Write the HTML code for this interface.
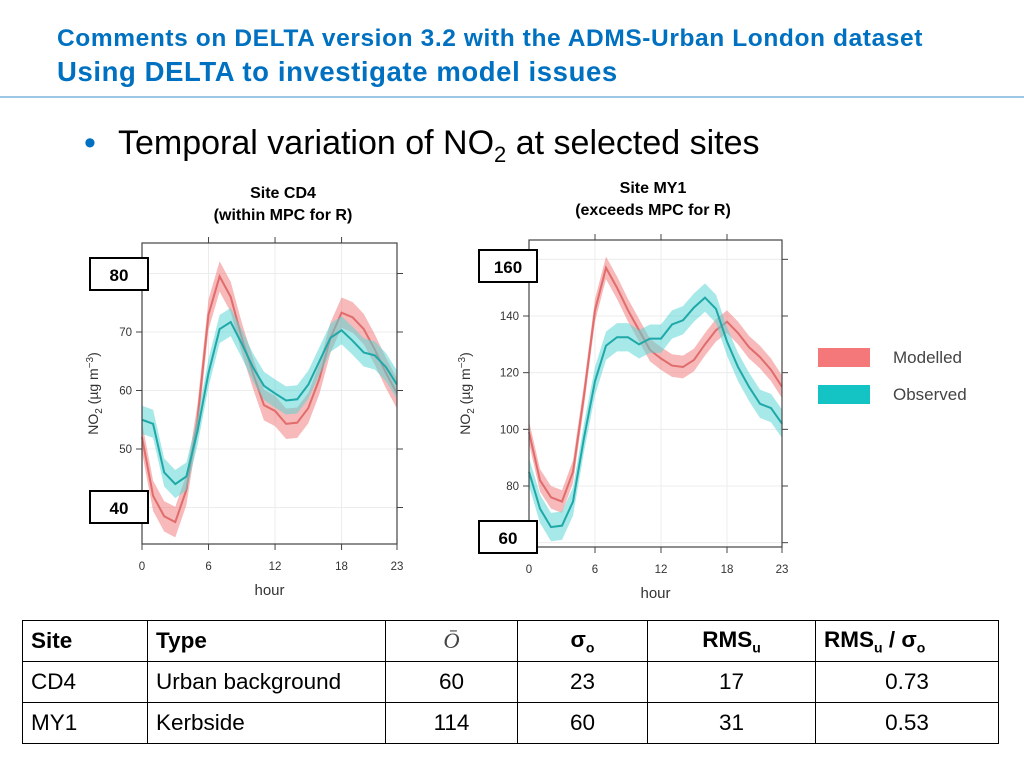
<!DOCTYPE html>
<html><head><meta charset="utf-8"><style>
body{margin:0;width:1024px;height:768px;background:#fff;font-family:"Liberation Sans",sans-serif;overflow:hidden;position:relative}
.t1{position:absolute;left:57px;top:25px;color:#0070c0;font-weight:bold;font-size:24.5px;letter-spacing:0.6px;white-space:nowrap}
.t2{position:absolute;left:57px;top:56px;color:#0070c0;font-weight:bold;font-size:27.5px;letter-spacing:0.6px;white-space:nowrap}
.rule{position:absolute;left:0;top:96px;width:1024px;height:2px;background:#9cc8e6}
.bullet{position:absolute;left:84px;top:124px;font-size:34px;color:#000;white-space:nowrap}
table{position:absolute;left:22px;top:620px;border-collapse:collapse;font-size:22.5px}
td{border:1.5px solid #000;height:40px;padding:0 8px}
</style></head><body>
<div class="t1">Comments on DELTA version 3.2 with the ADMS-Urban London dataset</div>
<div class="t2">Using DELTA to investigate model issues</div>
<div class="rule"></div>
<div class="bullet"><span style="color:#0070c0;display:inline-block;width:34px">•</span>Temporal variation of NO<sub style="font-size:22px">2</sub> at selected sites</div>
<svg id="svg" width="1024" height="768" style="position:absolute;left:0;top:0" font-family="Liberation Sans, sans-serif"></svg>
<table>
<tr style="font-weight:bold"><td style="width:108px">Site</td><td style="width:221px">Type</td><td style="width:115px;text-align:center;font-family:'Liberation Serif';font-style:italic;font-weight:normal;color:#444">Ō</td><td style="width:113px;text-align:center">σ<sub style="font-size:14px">o</sub></td><td style="width:151px;text-align:center">RMS<sub style="font-size:14px">u</sub></td><td style="width:166px">RMS<sub style="font-size:14px">u</sub> / σ<sub style="font-size:14px">o</sub></td></tr>
<tr><td>CD4</td><td>Urban background</td><td style="text-align:center">60</td><td style="text-align:center">23</td><td style="text-align:center">17</td><td style="text-align:center">0.73</td></tr>
<tr><td>MY1</td><td>Kerbside</td><td style="text-align:center">114</td><td style="text-align:center">60</td><td style="text-align:center">31</td><td style="text-align:center">0.53</td></tr>
</table>
<script>
const hours=[0,1,2,3,4,5,6,7,8,9,10,11,12,13,14,15,16,17,18,19,20,21,22,23];
const cd4Mod=[52,42,38.5,37.5,43,55,73,79.5,76,69,63,57.5,56.5,54.3,54.5,57,62,69,73.3,72.5,70.5,67,63,59.5];
const cd4Obs=[55,54.3,46,44,45.3,53,63,70.5,71.7,68,64,60.8,59.5,58.3,58.5,61,65,69,70.3,68.5,66.5,66,64,61];
const my1Mod=[99,82,76,74.5,85,112,142,157,150,142,135,128,125,122.5,122,124.5,130,135,138,134,129,125.5,121,115];
const my1Obs=[85,72,65.5,66,74.5,97,117,129.5,132.5,132.5,130,132,132,137,138.5,143,146.5,142.5,131,122,115,109,107.5,102];
const cd4Ticks=[50,60,70];const my1Ticks=[80,100,120,140];
const xTicks=[0,6,12,18,23];
const NS='http://www.w3.org/2000/svg';const svg=document.getElementById('svg');
function mk(t,a,p){const e=document.createElementNS(NS,t);for(const k in a)e.setAttribute(k,a[k]);(p||svg).appendChild(e);return e;}
function chart(o){
 const g=mk('g',{});
 
 
 const X=h=>o.x0+(o.x1-o.x0)*h/23, Y=v=>o.yb-(v-o.vb)*(o.yb-o.yt)/(o.vt-o.vb);
 xTicks.forEach(h=>mk('line',{x1:X(h),x2:X(h),y1:o.top,y2:o.bot,stroke:'#ececec'},g));
 o.grid.forEach(v=>mk('line',{x1:o.x0,x2:o.x1,y1:Y(v),y2:Y(v),stroke:'#ececec'},g));
 [[o.mod,'#f08080','#e06c6c',o.bm,'modelled'],[o.obs,'#5fd6d6','#1fa8a8',o.bo,'observed']].forEach(([d,fc,lc,bw,nm])=>{
  let up=d.map((v,i)=>X(i)+','+Y(v+bw)).join(' '),dn=d.map((v,i)=>X(i)+','+Y(v-bw)).reverse().join(' ');
  const b=mk('polygon',{points:up+' '+dn,fill:fc,'fill-opacity':0.55},g);
  
  
  const l=mk('polyline',{points:d.map((v,i)=>X(i)+','+Y(v)).join(' '),fill:'none',stroke:lc,'stroke-width':2},g);
  
  
 });
 mk('rect',{x:o.x0,y:o.top,width:o.x1-o.x0,height:o.bot-o.top,fill:'none',stroke:'#444','stroke-width':1.2},g);
 xTicks.forEach(h=>{mk('line',{x1:X(h),x2:X(h),y1:o.bot,y2:o.bot+6,stroke:'#444'},g);
  if(h>0&&h<23)mk('line',{x1:X(h),x2:X(h),y1:o.top,y2:o.top-6,stroke:'#444'},g);
  const t=mk('text',{x:X(h),y:o.bot+26,'text-anchor':'middle','font-size':11.5,fill:'#333'},g);t.textContent=h;});
 o.grid.forEach(v=>mk('line',{x1:o.x1,x2:o.x1+6,y1:Y(v),y2:Y(v),stroke:'#444'},g));
 o.ticks.forEach(v=>{mk('line',{x1:o.x0,x2:o.x0-6,y1:Y(v),y2:Y(v),stroke:'#444'},g);
  const t=mk('text',{x:o.x0-10,y:Y(v)+4,'text-anchor':'end','font-size':11.5,fill:'#333'},g);t.textContent=v;});
 const xt=mk('text',{x:(o.x0+o.x1)/2,y:o.bot+51,'text-anchor':'middle','font-size':15,fill:'#333'},g);xt.textContent='hour';
 const yt=mk('text',{transform:`translate(${o.ylx},${(o.top+o.bot)/2}) rotate(-90)`,'text-anchor':'middle','font-size':14,fill:'#333'},g);
 yt.innerHTML='NO<tspan font-size="10" dy="4">2</tspan><tspan dy="-4"> (µg m</tspan><tspan font-size="10" dy="-5">−3</tspan><tspan dy="5">)</tspan>';
 o.boxes.forEach(([v,x,y,w])=>{mk('rect',{x:x,y:y,width:w,height:32,fill:'#fff',stroke:'#000','stroke-width':2},g);
  const t=mk('text',{x:x+w/2,y:y+23,'text-anchor':'middle','font-size':17,'font-weight':'bold'},g);t.textContent=v;});
 o.title.forEach((s,i)=>{const t=mk('text',{x:o.tx,y:o.ty+i*22,'text-anchor':'middle','font-size':16,'font-weight':'bold'},g);t.textContent=s;});
}
chart({name:'cd4-chart',x0:142,x1:397,top:243,bot:544,yb:449,vb:50,yt:332,vt:70,mod:cd4Mod,obs:cd4Obs,bm:2.6,bo:2.4,
 grid:[40,50,60,70,80],ticks:cd4Ticks,ylx:98,boxes:[[80,90,258,58],[40,90,491,58]],title:['Site CD4','(within MPC for R)'],tx:283,ty:198});
chart({name:'my1-chart',x0:529,x1:782,top:240,bot:547,yb:486,vb:80,yt:316,vt:140,mod:my1Mod,obs:my1Obs,bm:4,bo:5,
 grid:[60,80,100,120,140,160],ticks:my1Ticks,ylx:470,boxes:[[160,479,250,58],[60,479,521,58]],title:['Site MY1','(exceeds MPC for R)'],tx:653,ty:193});
[['Modelled','#f4787a',348],['Observed','#14c4c4',385]].forEach(([n,c,y])=>{
 const r=mk('rect',{x:818,y:y,width:52,height:19,fill:c});
 
 
 const t=mk('text',{x:893,y:y+15,'font-size':17,fill:'#444'});t.textContent=n;
 
 
});
</script>
</body></html>
